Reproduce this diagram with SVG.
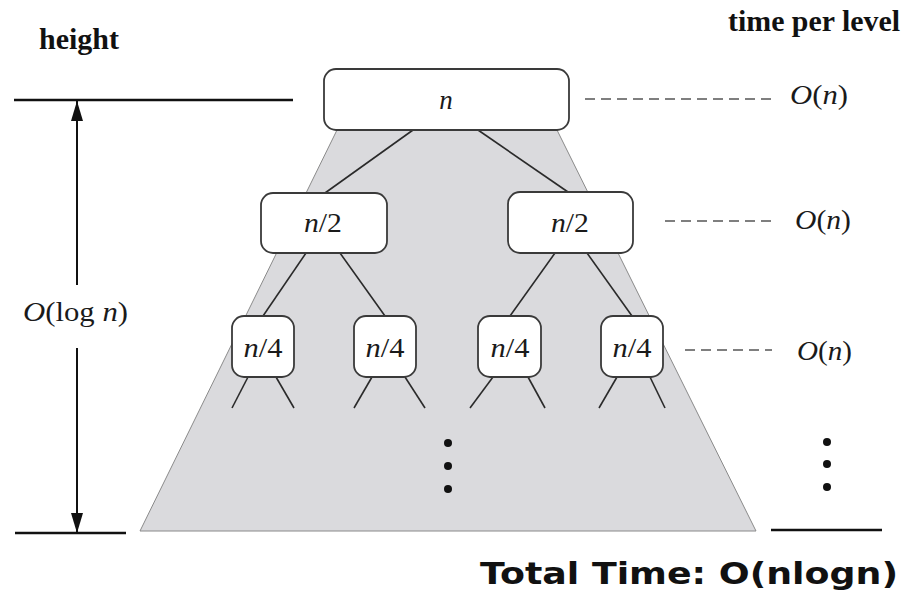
<svg xmlns="http://www.w3.org/2000/svg" width="905" height="594" viewBox="0 0 905 594">
  <defs>
    <marker id="ah" viewBox="0 0 20 12" refX="20" refY="6" markerWidth="20" markerHeight="12" markerUnits="userSpaceOnUse" orient="auto">
      <path d="M0,0 L20,6 L0,12 z" fill="#111"/>
    </marker>
    <style>
      .box { fill: #ffffff; stroke: #3a3a3a; stroke-width: 1.8; }
      .edge { stroke: #2a2a2a; stroke-width: 1.6; fill: none; }
      .dash { stroke: #555; stroke-width: 1.5; stroke-dasharray: 10 6; fill: none; }
      .rule { stroke: #111; stroke-width: 2.6; fill: none; }
      .lbl { font-family: "Liberation Serif", "Times New Roman", serif; font-size: 27px; fill: #1a1a1a; text-anchor: middle; }
      .it { font-style: italic; }
      .cost { font-family: "Liberation Serif", "Times New Roman", serif; font-size: 28px; fill: #1a1a1a; }
      .head { font-family: "Liberation Serif", "Times New Roman", serif; font-size: 29px; font-weight: bold; fill: #111; }
      .dot { fill: #111; }
    </style>
  </defs>
  <rect x="0" y="0" width="905" height="594" fill="#ffffff"/>

  <!-- recursion area -->
  <polygon points="337,130 557,130 756,531 140,531" fill="#dadadd" stroke="#8a8a8a" stroke-width="1"/>

  <!-- headers -->
  <text class="head" x="39" y="49" textLength="80" lengthAdjust="spacingAndGlyphs">height</text>
  <text class="head" x="728" y="31" textLength="172" lengthAdjust="spacingAndGlyphs">time per level</text>

  <!-- height rules and arrow -->
  <line class="rule" x1="14" y1="100" x2="293" y2="100"/>
  <line class="rule" x1="15" y1="533" x2="126" y2="533"/>
  <g id="connectors">
    <line x1="77" y1="285" x2="77" y2="101" stroke="#111" stroke-width="2" marker-end="url(#ah)"/>
    <line x1="77" y1="348" x2="77" y2="533" stroke="#111" stroke-width="2" marker-end="url(#ah)"/>
    <!-- tree edges -->
    <line class="edge" x1="413" y1="130" x2="325" y2="193"/>
    <line class="edge" x1="478" y1="130" x2="568" y2="192"/>
    <line class="edge" x1="306" y1="253" x2="263" y2="316"/>
    <line class="edge" x1="340" y1="253" x2="385" y2="316"/>
    <line class="edge" x1="555" y1="253" x2="510" y2="316"/>
    <line class="edge" x1="587" y1="253" x2="632" y2="316"/>
    <line class="edge" x1="248" y1="377" x2="232" y2="408"/>
    <line class="edge" x1="276" y1="377" x2="294" y2="408"/>
    <line class="edge" x1="372" y1="377" x2="354" y2="408"/>
    <line class="edge" x1="405" y1="377" x2="425" y2="408"/>
    <line class="edge" x1="493" y1="377" x2="470" y2="408"/>
    <line class="edge" x1="528" y1="377" x2="545" y2="408"/>
    <line class="edge" x1="617" y1="377" x2="599" y2="408"/>
    <line class="edge" x1="650" y1="377" x2="665" y2="408"/>
    <!-- dashed level links -->
    <line class="dash" x1="585" y1="99" x2="772" y2="99"/>
    <line class="dash" x1="665" y1="221" x2="772" y2="221"/>
    <line class="dash" x1="685" y1="350" x2="772" y2="350" stroke-width="1.2"/>
  </g>
  <text class="cost" x="23" y="321" textLength="105" lengthAdjust="spacingAndGlyphs"><tspan class="it">O</tspan>(log <tspan class="it">n</tspan>)</text>

  <!-- nodes -->
  <g id="node-root">
    <rect class="box" x="324" y="69" width="245" height="61" rx="12"/>
    <text class="lbl" x="446" y="109"><tspan class="it">n</tspan></text>
  </g>
  <g id="node-l2a">
    <rect class="box" x="261" y="193" width="126" height="60" rx="12"/>
    <text class="lbl" x="323" y="232" textLength="38" lengthAdjust="spacingAndGlyphs"><tspan class="it">n</tspan>/2</text>
  </g>
  <g id="node-l2b">
    <rect class="box" x="508" y="192" width="125" height="61" rx="12"/>
    <text class="lbl" x="570" y="232" textLength="38" lengthAdjust="spacingAndGlyphs"><tspan class="it">n</tspan>/2</text>
  </g>
  <g id="node-l3a">
    <rect class="box" x="232" y="316" width="62" height="61" rx="12"/>
    <text class="lbl" x="263" y="357" textLength="39" lengthAdjust="spacingAndGlyphs"><tspan class="it">n</tspan>/4</text>
  </g>
  <g id="node-l3b">
    <rect class="box" x="354" y="316" width="62" height="61" rx="12"/>
    <text class="lbl" x="385" y="357" textLength="39" lengthAdjust="spacingAndGlyphs"><tspan class="it">n</tspan>/4</text>
  </g>
  <g id="node-l3c">
    <rect class="box" x="478" y="316" width="63" height="61" rx="12"/>
    <text class="lbl" x="510" y="357" textLength="39" lengthAdjust="spacingAndGlyphs"><tspan class="it">n</tspan>/4</text>
  </g>
  <g id="node-l3d">
    <rect class="box" x="601" y="316" width="62" height="61" rx="12"/>
    <text class="lbl" x="632" y="357" textLength="39" lengthAdjust="spacingAndGlyphs"><tspan class="it">n</tspan>/4</text>
  </g>

  <!-- per-level costs -->
  <text class="cost" x="790" y="104" textLength="58" lengthAdjust="spacingAndGlyphs"><tspan class="it">O</tspan>(<tspan class="it">n</tspan>)</text>
  <text class="cost" x="795" y="229" textLength="56" lengthAdjust="spacingAndGlyphs"><tspan class="it">O</tspan>(<tspan class="it">n</tspan>)</text>
  <text class="cost" x="797" y="360" textLength="55" lengthAdjust="spacingAndGlyphs"><tspan class="it">O</tspan>(<tspan class="it">n</tspan>)</text>

  <!-- ellipses -->
  <circle class="dot" cx="448" cy="443" r="4"/>
  <circle class="dot" cx="448" cy="466" r="4"/>
  <circle class="dot" cx="448" cy="489" r="4"/>
  <circle class="dot" cx="827" cy="442" r="4"/>
  <circle class="dot" cx="827" cy="464" r="4"/>
  <circle class="dot" cx="827" cy="487" r="4"/>

  <!-- total -->
  <line class="rule" x1="771" y1="530" x2="882" y2="530"/>
  <text x="480" y="584" font-family="'DejaVu Sans', Verdana, sans-serif" font-size="30" font-weight="bold" fill="#111" textLength="418" lengthAdjust="spacingAndGlyphs">Total Time: O(nlogn)</text>
</svg>
